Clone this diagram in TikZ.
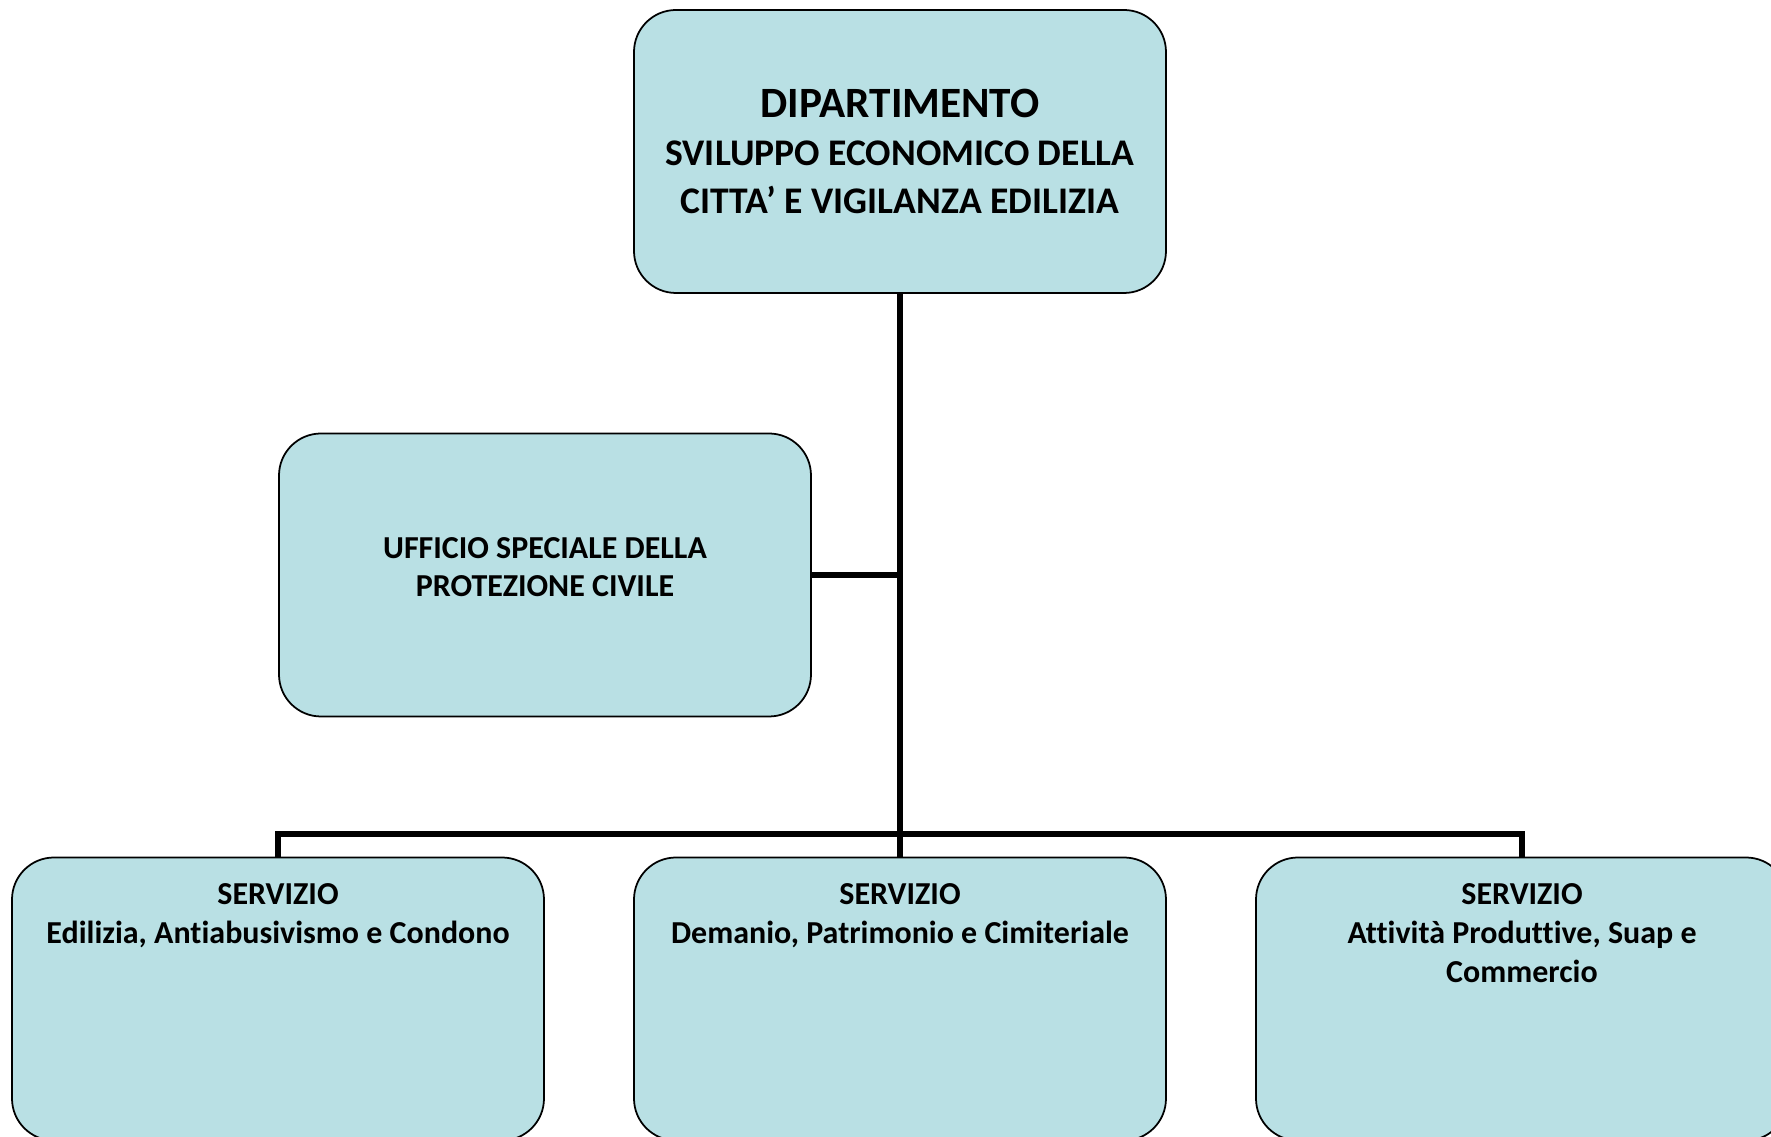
\documentclass[tikz,border=0pt]{standalone}
\usepackage{fontspec}
\setmainfont[Ligatures={NoCommon}]{Carlito}
\usepackage{tikz}

\definecolor{boxblue}{RGB}{185,224,228}

\tikzset{
  box/.style={draw, line width=0.5pt, fill=boxblue, rounded corners=0.42cm,
    minimum width=5.32cm, minimum height=2.83cm, align=center, inner sep=0pt,
    font=\bfseries\fontsize{9.1}{11}\selectfont},
  conn/.style={line width=1.6pt}
}

\begin{document}
\begin{tikzpicture}

\useasboundingbox (0,0) rectangle (17.71,11.37);

\node [box, font=\bfseries\fontsize{10.7}{13.6}\selectfont] (dip) at (9,9.855)
  {{\fontsize{12.3}{13.6}\selectfont DIPARTIMENTO}\\
  SVILUPPO ECONOMICO DELLA\\
  CITTA’ E VIGILANZA EDILIZIA};

\node [box] (uff) at (5.45,5.62)
  {\raisebox{0pt}[0pt][0pt]{\parbox{5cm}{\centering UFFICIO SPECIALE DELLA\\PROTEZIONE CIVILE}}};

\node [box] (srv1) at (2.78,1.38)
  {\parbox[c][2.6cm][t]{5.2cm}{\centering\vspace*{0.15cm}SERVIZIO\\Edilizia, Antiabusivismo e Condono}};
\node [box] (srv2) at (9,1.38)
  {\parbox[c][2.6cm][t]{5.2cm}{\centering\vspace*{0.15cm}SERVIZIO\\Demanio, Patrimonio e Cimiteriale}};
\node [box] (srv3) at (15.22,1.38)
  {\parbox[c][2.6cm][t]{5.2cm}{\centering\vspace*{0.15cm}SERVIZIO\\Attività Produttive, Suap e\\Commercio}};

\coordinate (bus) at (9,3.03);

\draw[conn] (dip.south) -- (srv2.north);
\draw[conn] (uff.east) -- (uff.east -| dip.south);
\draw[conn] (srv1.north) |- (bus) -| (srv3.north);

\end{tikzpicture}
\end{document}
